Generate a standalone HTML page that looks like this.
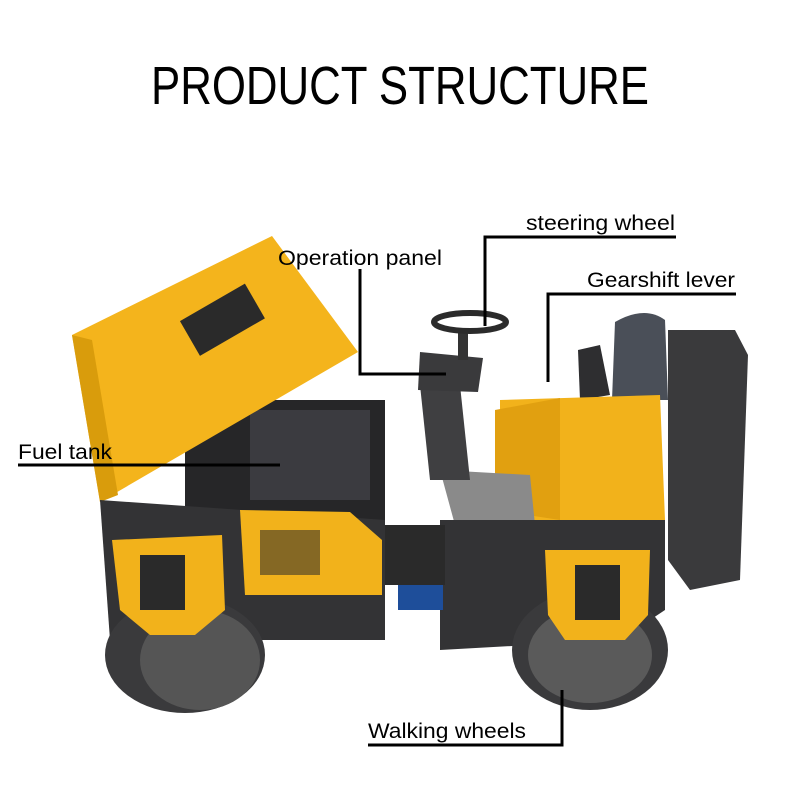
<!DOCTYPE html>
<html><head><meta charset="utf-8"><style>
html,body{margin:0;padding:0;background:#fff}
svg{display:block}
text{font-family:"Liberation Sans",sans-serif;fill:#000}
</style></head><body>
<svg width="800" height="800" viewBox="0 0 800 800" xmlns="http://www.w3.org/2000/svg">
<rect width="800" height="800" fill="#fff"/>
<text x="400" y="104" font-size="54" text-anchor="middle" textLength="498" lengthAdjust="spacingAndGlyphs">PRODUCT STRUCTURE</text>

<polygon points="668,330 735,330 748,355 740,580 690,590 668,560" fill="#3a3a3c"/>
<polygon points="578,350 600,345 610,395 580,400" fill="#2e2e30"/>
<path d="M615,322 Q645,305 665,320 L668,400 L612,400 Z" fill="#4a4f58"/>
<polygon points="500,400 660,395 665,520 530,525 500,470" fill="#f2b21b"/>
<polygon points="495,410 560,398 560,520 495,510" fill="#e1a010"/>
<polygon points="440,470 530,475 535,525 455,525" fill="#8a8a8a"/>
<polygon points="420,385 460,385 470,480 430,480" fill="#3f3f41"/>
<polygon points="420,352 483,358 478,392 418,390" fill="#3a3a3c"/>
<rect x="458" y="330" width="10" height="30" fill="#333"/>
<ellipse cx="470" cy="322" rx="36" ry="9" fill="none" stroke="#2b2b2b" stroke-width="6"/>
<rect x="185" y="400" width="200" height="120" fill="#262628"/>
<rect x="250" y="410" width="120" height="90" fill="#3b3b40"/>
<polygon points="72,335 272,236 358,352 100,502" fill="#f4b41c"/>
<polygon points="72,335 100,502 118,495 92,340" fill="#d99c0c"/>
<rect x="185" y="300" width="75" height="40" fill="#2a2a2a" transform="rotate(-30 222 320)"/>
<polygon points="100,500 385,520 385,640 110,640" fill="#333335"/>
<polygon points="240,510 350,512 382,540 382,595 245,595" fill="#f2b21b"/>
<rect x="260" y="530" width="60" height="45" fill="#2b2b2b" opacity=".55"/>
<polygon points="440,520 665,520 665,610 620,640 440,650" fill="#333335"/>
<rect x="385" y="525" width="60" height="60" fill="#2a2a2a"/>
<rect x="398" y="585" width="45" height="25" fill="#1e4e9a"/>
<ellipse cx="185" cy="655" rx="80" ry="58" fill="#3a3a3c"/>
<ellipse cx="200" cy="660" rx="60" ry="50" fill="#555"/>
<ellipse cx="590" cy="650" rx="78" ry="60" fill="#3a3a3c"/>
<ellipse cx="590" cy="655" rx="62" ry="48" fill="#5a5a5a"/>
<polygon points="112,540 222,535 225,610 195,635 150,635 120,610" fill="#f2b21b"/>
<rect x="140" y="555" width="45" height="55" fill="#2a2a2a"/>
<polygon points="545,550 650,550 648,615 625,640 565,640 548,615" fill="#f2b21b"/>
<rect x="575" y="565" width="45" height="55" fill="#2a2a2a"/>

<g fill="none" stroke="#000" stroke-width="3">
<polyline points="676,237 485,237 485,326"/>
<polyline points="360,269 360,374 446,374"/>
<polyline points="736,294 548,294 548,382"/>
<line x1="18" y1="465" x2="280" y2="465"/>
<polyline points="368,745 562,745 562,690"/>
</g>
<text x="526" y="230" font-size="21" textLength="149" lengthAdjust="spacingAndGlyphs">steering wheel</text>
<text x="278" y="265" font-size="21" textLength="164" lengthAdjust="spacingAndGlyphs">Operation panel</text>
<text x="587" y="287" font-size="21" textLength="148" lengthAdjust="spacingAndGlyphs">Gearshift lever</text>
<text x="18" y="459" font-size="21" textLength="94" lengthAdjust="spacingAndGlyphs">Fuel tank</text>
<text x="368" y="738" font-size="21" textLength="158" lengthAdjust="spacingAndGlyphs">Walking wheels</text>
</svg>
</body></html>
